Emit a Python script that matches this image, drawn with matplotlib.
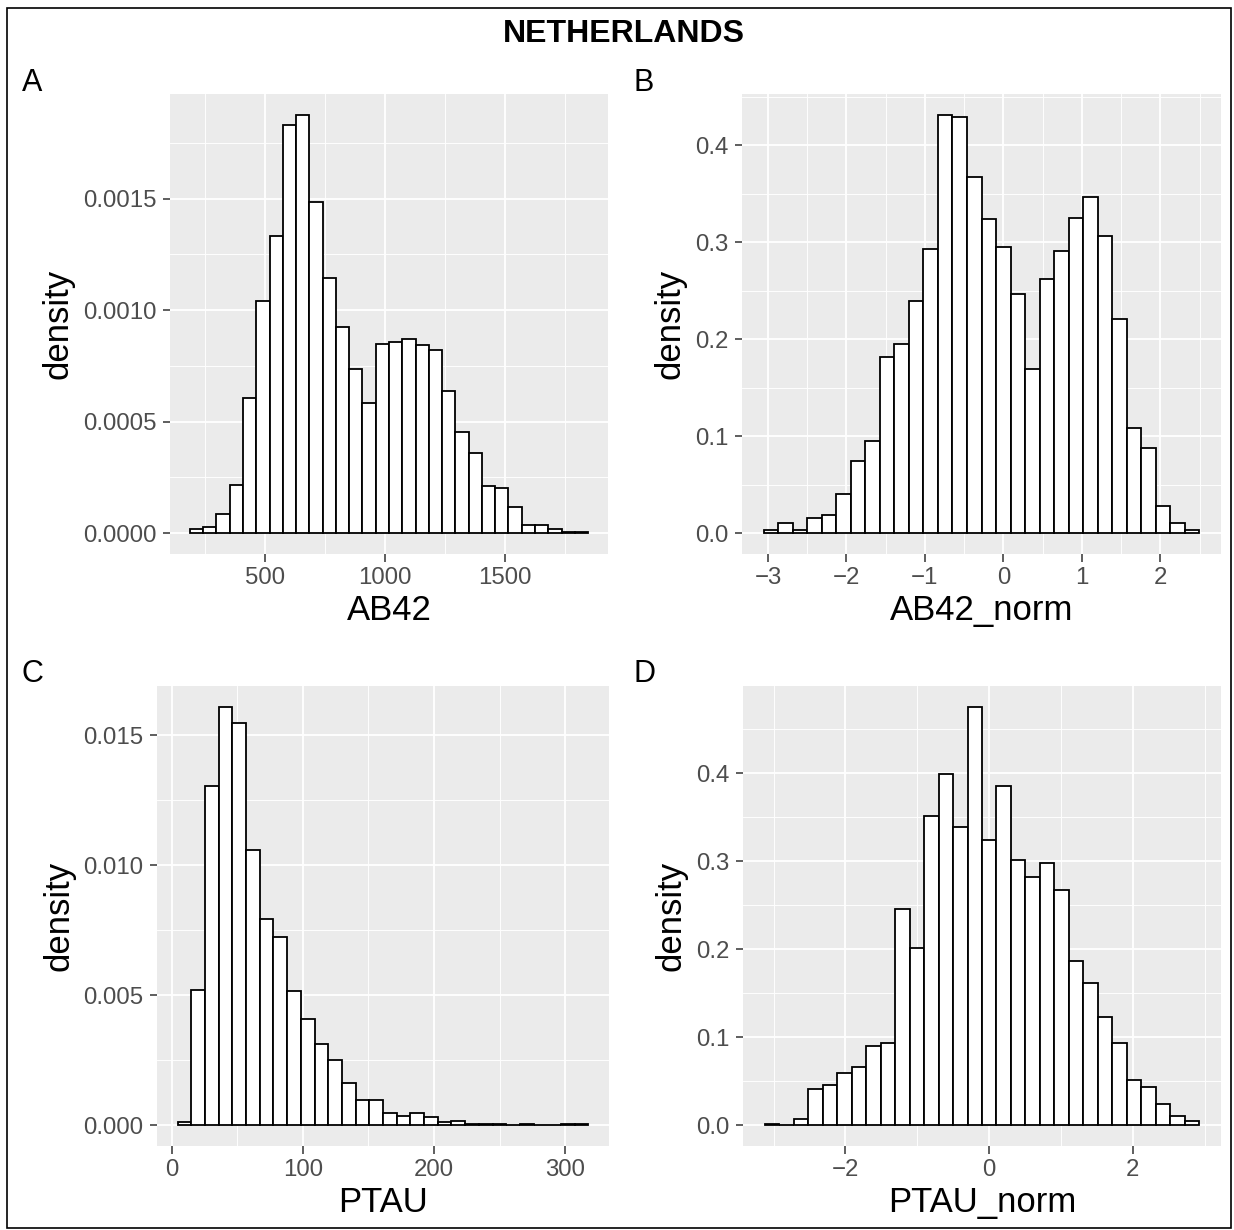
import numpy as np
import matplotlib
matplotlib.use("Agg")
import matplotlib.pyplot as plt
from matplotlib.ticker import FixedLocator
from matplotlib.patches import Rectangle

plt.rcParams['font.family'] = ['Liberation Sans', 'DejaVu Sans']

# ---------------- data ----------------
title = "NETHERLANDS"
panel_letters = ["A", "B", "C", "D"]
x_labels = ["AB42", "AB42_norm", "PTAU", "PTAU_norm"]

ab42_range = (189, 1844)
ab42_density = [0.0000179, 0.0000254, 0.0000866, 0.000215, 0.000607, 0.00104,
                0.001334, 0.00183, 0.001875, 0.001485, 0.001143, 0.000925,
                0.000734, 0.000584, 0.000848, 0.000855, 0.000869, 0.000843,
                0.000822, 0.000636, 0.000452, 0.000361, 0.000209, 0.000204,
                0.000118, 0.0000343, 0.0000343, 0.0000179, 0.000006, 0.000006]

ab42n_range = (-3.053, 2.494)
ab42n_density = [0.0034, 0.0103, 0.0031, 0.0158, 0.0189, 0.0399, 0.0746, 0.0945,
                 0.1814, 0.1948, 0.2395, 0.2928, 0.4313, 0.4296, 0.367, 0.3244,
                 0.2952, 0.2467, 0.1691, 0.2622, 0.2914, 0.3247, 0.3467, 0.3069,
                 0.2206, 0.1082, 0.088, 0.0278, 0.0103, 0.0034]

ptau_range = (4.6, 317.8)
ptau_density = [0.000128, 0.0052, 0.01306, 0.0161, 0.01548, 0.01059, 0.00792,
                0.00724, 0.00515, 0.0041, 0.00312, 0.00249, 0.00163, 0.00096,
                0.00096, 0.000475, 0.000347, 0.00045, 0.000295, 0.000128,
                0.000167, 0.00004, 0.00005, 0.00003, 0.0, 0.00003, 0.0, 0.0,
                0.00003, 0.00003]

ptaun_range = (-3.124, 2.925)
ptaun_density = [0.0011, 0.0, 0.0064, 0.0413, 0.0459, 0.0588, 0.0664, 0.0902,
                 0.0933, 0.2453, 0.2017, 0.3515, 0.3989, 0.3393, 0.4754, 0.3242,
                 0.3852, 0.301, 0.2817, 0.298, 0.2677, 0.1865, 0.1615, 0.1232,
                 0.0936, 0.0512, 0.0428, 0.0239, 0.0106, 0.0045]

ab42_xticks = [500, 1000, 1500]
ab42_yticks = [0.0, 0.0005, 0.0010, 0.0015]
ab42_yticklabels = ["0.0000", "0.0005", "0.0010", "0.0015"]
ab42n_xticks = [-3, -2, -1, 0, 1, 2]
ab42n_yticks = [0.0, 0.1, 0.2, 0.3, 0.4]
ptau_xticks = [0, 100, 200, 300]
ptau_yticks = [0.0, 0.005, 0.010, 0.015]
ptau_yticklabels = ["0.000", "0.005", "0.010", "0.015"]
ptaun_xticks = [-2, 0, 2]
ptaun_yticks = [0.0, 0.1, 0.2, 0.3, 0.4]

# ---------------- layout ----------------
W, H = 1234, 1230
fig = plt.figure(figsize=(W / 100, H / 100), dpi=100)
fig.patch.set_facecolor("white")


def ax_at(x0, x1, y0, y1):
    return fig.add_axes([x0 / W, 1 - y1 / H, (x1 - x0) / W, (y1 - y0) / H])


TICK_FS = 17.3
TITLE_FS = 25
LETTER_FS = 22


def minus(v):
    s = ("%g" % v)
    return s.replace("-", "\u2212")


def draw_panel(ax, rng, dens, xticks, xminor, yticks, yminor, ylabels, xlabel):
    edges = np.linspace(rng[0], rng[1], len(dens) + 1)
    widths = np.diff(edges)
    ax.bar(edges[:-1], dens, width=widths, align="edge", color="white",
           edgecolor="black", linewidth=1.3, zorder=3)
    # ggplot-like expansion
    xr = rng[1] - rng[0]
    ax.set_xlim(rng[0] - 0.05 * xr, rng[1] + 0.05 * xr)
    ymax = max(dens)
    ax.set_ylim(-0.05 * ymax, 1.05 * ymax)
    ax.set_facecolor("#EBEBEB")
    for s in ax.spines.values():
        s.set_visible(False)
    ax.xaxis.set_major_locator(FixedLocator(xticks))
    ax.yaxis.set_major_locator(FixedLocator(yticks))
    ax.xaxis.set_minor_locator(FixedLocator(xminor))
    ax.yaxis.set_minor_locator(FixedLocator(yminor))
    ax.set_xticklabels([minus(v) for v in xticks])
    if ylabels is None:
        ylabels = ["%.1f" % v for v in yticks]
    ax.set_yticklabels(ylabels)
    ax.grid(which="major", color="white", linewidth=1.3, zorder=0)
    ax.grid(which="minor", color="white", linewidth=0.65, zorder=0)
    ax.set_axisbelow(True)
    ax.tick_params(which="major", length=5.4, width=1.1, color="#333333",
                   labelsize=TICK_FS, labelcolor="#4D4D4D", pad=4.3)
    ax.tick_params(which="minor", length=0)
    ax.set_xlabel(xlabel, fontsize=TITLE_FS, labelpad=3)
    ax.set_ylabel("density", fontsize=TITLE_FS, labelpad=6)


axA = ax_at(170, 608, 94, 554)
draw_panel(axA, ab42_range, ab42_density, ab42_xticks, [250, 750, 1250, 1750],
           ab42_yticks, [0.00025, 0.00075, 0.00125, 0.00175], ab42_yticklabels,
           x_labels[0])

axB = ax_at(742, 1221, 94, 554)
draw_panel(axB, ab42n_range, ab42n_density, ab42n_xticks,
           [-2.5, -1.5, -0.5, 0.5, 1.5, 2.5],
           ab42n_yticks, [0.05, 0.15, 0.25, 0.35, 0.45], None, x_labels[1])

axC = ax_at(157, 609, 686, 1146)
draw_panel(axC, ptau_range, ptau_density, ptau_xticks, [50, 150, 250],
           ptau_yticks, [0.0025, 0.0075, 0.0125], ptau_yticklabels, x_labels[2])

axD = ax_at(743, 1221, 686, 1146)
draw_panel(axD, ptaun_range, ptaun_density, ptaun_xticks, [-3, -1, 1, 3],
           ptaun_yticks, [0.05, 0.15, 0.25, 0.35, 0.45], None, x_labels[3])

# title and panel letters
fig.text(624 / W, 1 - 41.7 / H, title, ha="center", va="baseline",
         fontsize=23, fontweight="bold")
letter_pos = [(21.7, 90.7), (634, 90.7), (21.7, 682), (634, 682)]
for lt, (px, py) in zip(panel_letters, letter_pos):
    fig.text(px / W, 1 - py / H, lt, ha="left", va="baseline", fontsize=LETTER_FS)

# outer border
fig.patches.append(Rectangle((7 / W, 1 - 1228 / H), (1231 - 7) / W, (1228 - 8) / H,
                             transform=fig.transFigure, fill=False,
                             edgecolor="black", linewidth=1.2))

fig.savefig("out.png", dpi=100)
